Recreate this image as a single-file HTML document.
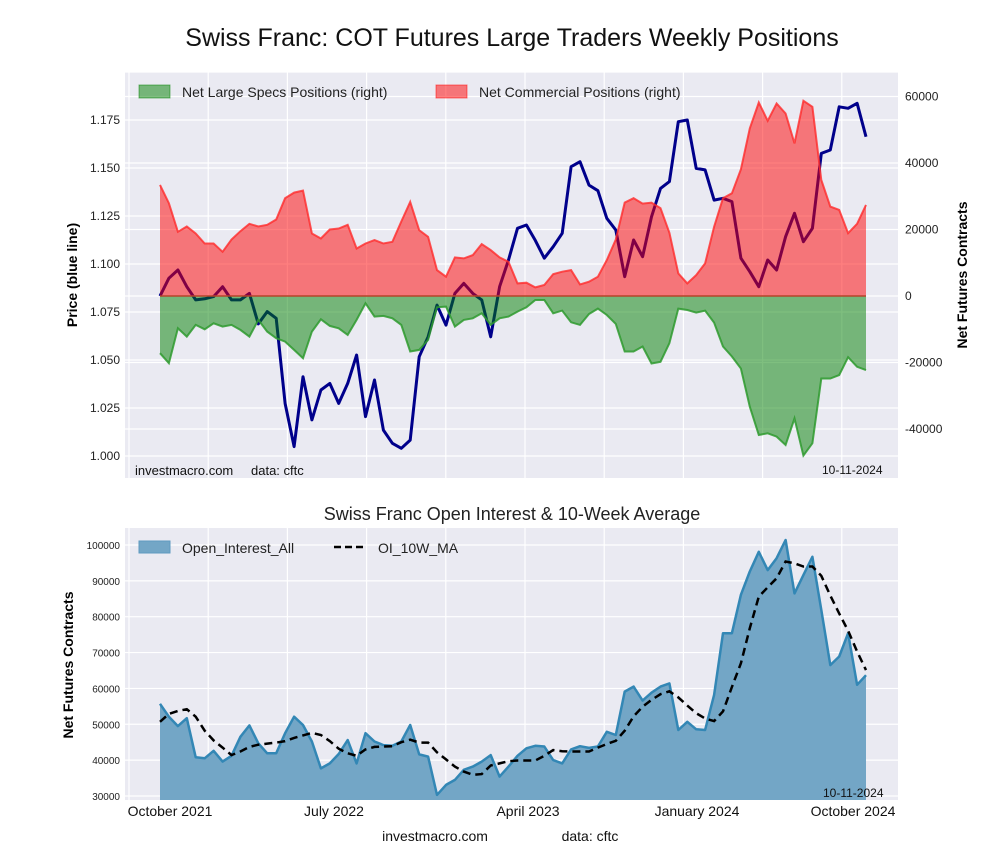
<!DOCTYPE html>
<html><head><meta charset="utf-8"><style>
body{margin:0;background:#fff;}
svg text{font-family:"Liberation Sans",Arial,sans-serif;}
</style></head><body>
<svg id="chart" width="1000" height="860" xmlns="http://www.w3.org/2000/svg">
<text x="512" y="46" font-size="25" text-anchor="middle" fill="#111">Swiss Franc: COT Futures Large Traders Weekly Positions</text>
<rect x="125" y="72" width="773" height="406" fill="#eaeaf2"/>
<g id="topgrid"></g>
<g id="topmarks"></g>
<g id="topaxes"></g>
<text transform="translate(77,275) rotate(-90)" font-size="14" font-weight="bold" text-anchor="middle">Price (blue line)</text>
<text transform="translate(967,275) rotate(-90)" font-size="14" font-weight="bold" text-anchor="middle">Net Futures Contracts</text>
<g>
<rect x="139" y="85" width="31" height="13" fill="rgba(0,128,0,0.5)" stroke="rgba(0,128,0,0.5)"/>
<text x="182" y="97" font-size="14" fill="#222">Net Large Specs Positions (right)</text>
<rect x="436" y="85" width="31" height="13" fill="rgba(255,0,0,0.5)" stroke="rgba(255,0,0,0.5)"/>
<text x="479" y="97" font-size="14" fill="#222">Net Commercial Positions (right)</text>
</g>
<text x="135" y="475" font-size="13" fill="#111">investmacro.com</text>
<text x="251" y="475" font-size="13" fill="#111">data: cftc</text>
<text x="822" y="474" font-size="12" fill="#111">10-11-2024</text>

<text x="512" y="520" font-size="18" text-anchor="middle" fill="#222">Swiss Franc Open Interest &amp; 10-Week Average</text>
<rect x="125" y="528" width="773" height="272" fill="#eaeaf2"/>
<g id="botgrid"></g>
<g id="botmarks"></g>
<g id="botaxes"></g>
<text transform="translate(73,665) rotate(-90)" font-size="14" font-weight="bold" text-anchor="middle">Net Futures Contracts</text>
<g>
<rect x="139" y="541" width="31" height="12" fill="#73a6c6" stroke="#5f9bc0"/>
<text x="182" y="553" font-size="14" fill="#222">Open_Interest_All</text>
<line x1="334" y1="547" x2="365" y2="547" stroke="#000" stroke-width="2.5" stroke-dasharray="7,4"/>
<text x="378" y="553" font-size="14" fill="#222">OI_10W_MA</text>
</g>
<text x="823" y="797" font-size="12" fill="#111">10-11-2024</text>
<text x="435" y="841" font-size="14" text-anchor="middle" fill="#111">investmacro.com</text>
<text x="590" y="841" font-size="14" text-anchor="middle" fill="#111">data: cftc</text>
</svg>
<script>
const priceValues=[1.0833,1.0926,1.0969,1.0882,1.0813,1.0819,1.0830,1.0882,1.0813,1.0813,1.0847,1.0688,1.0752,1.0717,1.0274,1.0049,1.0413,1.0188,1.0344,1.0378,1.0274,1.0378,1.0526,1.0205,1.0396,1.0135,1.0066,1.0040,1.0083,1.0517,1.0621,1.0786,1.0682,1.0847,1.0899,1.0847,1.0813,1.0621,1.0882,1.1021,1.1186,1.1203,1.1123,1.1030,1.1090,1.1160,1.1507,1.1533,1.1411,1.1382,1.1238,1.1177,1.0934,1.1125,1.1038,1.1246,1.1394,1.1429,1.1741,1.1750,1.1498,1.1490,1.1333,1.1342,1.1325,1.1030,1.0960,1.0882,1.1021,1.0969,1.1142,1.1264,1.1116,1.1186,1.1576,1.1594,1.1819,1.1811,1.1837,1.1663];
const commercialValues=[33400,27900,19300,20900,18800,15800,15800,13300,17000,19500,21700,20900,21400,23000,29400,31100,31700,18800,17300,20000,20300,21400,14300,15800,16800,15800,16300,22400,28300,19800,17800,7800,5800,11600,11300,12300,15600,13800,11600,10300,3800,4000,2600,3300,6600,7300,7800,3500,4300,5800,10800,17000,28100,29400,27800,28100,26400,19000,6800,3800,6300,9800,20800,29400,30900,38100,50400,58200,52700,57900,54900,45900,58700,56900,34900,26900,25900,18900,21700,27400];
const specsValues=[-17200,-20200,-9700,-12200,-8700,-10000,-8200,-9200,-8700,-10200,-12200,-7200,-10700,-12700,-13700,-16200,-18700,-10700,-7000,-9000,-9700,-11700,-7200,-2200,-6200,-6000,-6700,-8700,-16700,-16200,-13200,-3400,-3200,-9200,-7200,-6700,-5200,-8700,-6700,-6200,-4700,-3400,-1200,-1200,-5200,-4400,-7900,-8700,-5400,-3800,-5700,-8400,-16700,-16700,-15200,-20300,-19800,-14200,-3800,-4200,-5000,-4400,-8000,-15200,-18200,-21800,-33300,-41800,-41300,-42300,-44800,-36800,-48000,-44300,-24800,-24800,-23800,-18400,-21300,-22300];
const oiValues=[55700,52100,49500,51700,40800,40500,42600,39600,41200,46500,49700,44700,41900,41900,47500,52100,49800,45200,37700,39100,41700,45600,39100,47500,45200,44200,44000,45200,49800,41600,41000,30300,33100,34500,37300,38200,39600,41400,35400,38200,41200,43300,44000,43800,40000,39100,43000,43900,43400,43800,47900,47000,59100,60500,56600,58800,60500,61400,48400,50700,48600,48400,58200,75400,75400,86100,92600,98100,93000,96300,101400,86500,91600,96700,81900,66500,68900,75400,61000,63700];
const maValues=[50700,52900,53700,54200,52100,48200,45500,43500,41400,42400,43700,44300,44600,44900,45300,46200,46900,47600,47000,45300,43200,41900,41200,43000,43700,43800,43900,45000,45700,44900,44900,42200,40200,38200,36800,35900,36100,38500,39100,39700,39900,39900,39900,41200,42800,42500,42400,42400,42400,43500,44500,45400,48200,52200,54900,56800,58400,59200,57500,55200,53100,51600,50900,53600,60400,67000,76800,85600,88200,90700,95400,94900,94000,94000,91400,85900,80900,76100,70300,65100];
const priceTicks=[1.000,1.025,1.050,1.075,1.100,1.125,1.150,1.175];
const rightTicks=[-40000,-20000,0,20000,40000,60000];
const oiTicks=[30000,40000,50000,60000,70000,80000,90000,100000];
const xLabels=["October 2021","July 2022","April 2023","January 2024","October 2024"];

const NS="http://www.w3.org/2000/svg";
function mk(tag,attrs,parent,txt){const e=document.createElementNS(NS,tag);for(const k in attrs)e.setAttribute(k,attrs[k]);if(txt!==undefined)e.textContent=txt;parent.appendChild(e);return e;}
const N=priceValues.length;
const xS=i=>160+i*(706/(N-1));
const yP=p=>456-(p-1.0)*1920;
const yR=v=>296-v*66.5/20000;
const yO=v=>796-(v-30000)*35.86/10000;

const tg=document.getElementById('topgrid'),tm=document.getElementById('topmarks'),ta=document.getElementById('topaxes');
const bg=document.getElementById('botgrid'),bm=document.getElementById('botmarks'),ba=document.getElementById('botaxes');
for(let k=0;k<10;k++){const x=129+k*79.2;
 let l=mk('line',{x1:x,x2:x,y1:72,y2:478,stroke:'#fff','stroke-width':1.2},tg);
 
 
 let l2=mk('line',{x1:x,x2:x,y1:528,y2:800,stroke:'#fff','stroke-width':1.2},bg);
 
 }
priceTicks.concat([1.2]).forEach(p=>{const y=yP(p);
 let l=mk('line',{x1:125,x2:898,y1:y,y2:y,stroke:'#fff','stroke-width':1.2},tg);
 
 });
rightTicks.forEach(v=>{const y=yR(v);
 let l=mk('line',{x1:125,x2:898,y1:y,y2:y,stroke:'#fff','stroke-width':1.2},tg);
 
 });
oiTicks.forEach(v=>{const y=yO(v);
 let l=mk('line',{x1:125,x2:898,y1:y,y2:y,stroke:'#fff','stroke-width':1.2},bg);
 
 });
priceTicks.forEach(p=>{let t=mk('text',{x:120,y:yP(p)+4,'font-size':12,'text-anchor':'end',fill:'#222'},ta,p.toFixed(3));
 
 });
rightTicks.forEach(v=>{let t=mk('text',{x:905,y:yR(v)+4,'font-size':12,fill:'#222'},ta,String(v));
 
 });
oiTicks.forEach(v=>{let t=mk('text',{x:120,y:yO(v)+4,'font-size':10,'text-anchor':'end',fill:'#222'},ba,String(v));
 
 });
const xl=[170,334,528,697,853];
xLabels.forEach((s,k)=>{let t=mk('text',{x:xl[k],y:816,'font-size':14,'text-anchor':'middle',fill:'#111'},ba,s);
 
 });

function linePath(vals,ys){return vals.map((v,i)=>(i?'L':'M')+xS(i).toFixed(1)+','+ys(v).toFixed(1)).join('');}
function areaPath(vals,ys,base){return linePath(vals,ys)+'L'+xS(vals.length-1).toFixed(1)+','+base+'L'+xS(0).toFixed(1)+','+base+'Z';}
let pl=mk('path',{d:linePath(priceValues,yP),fill:'none',stroke:'#00008b','stroke-width':3,'stroke-linejoin':'round'},tm);


let sa=mk('path',{d:areaPath(specsValues,yR,yR(0)),fill:'rgba(0,128,0,0.5)'},tm);


let sl=mk('path',{d:linePath(specsValues,yR),fill:'none',stroke:'#2e9a2e','stroke-width':2,'stroke-opacity':0.85},tm);


let ca=mk('path',{d:areaPath(commercialValues,yR,yR(0)),fill:'rgba(255,0,0,0.5)'},tm);


let cl=mk('path',{d:linePath(commercialValues,yR),fill:'none',stroke:'#ff2a2a','stroke-width':2,'stroke-opacity':0.8},tm);


let zl=mk('line',{x1:xS(0),x2:xS(N-1),y1:yR(0),y2:yR(0),stroke:'#b5442a','stroke-width':1.5},tm);


let oa=mk('path',{d:areaPath(oiValues,yO,800),fill:'#73a6c6'},bm);


let ol=mk('path',{d:linePath(oiValues,yO),fill:'none',stroke:'#3387b5','stroke-width':2.5,'stroke-linejoin':'round'},bm);


let ml=mk('path',{d:linePath(maValues,yO),fill:'none',stroke:'#000','stroke-width':2.5,'stroke-dasharray':'8,5'},bm);


</script>
</body></html>
